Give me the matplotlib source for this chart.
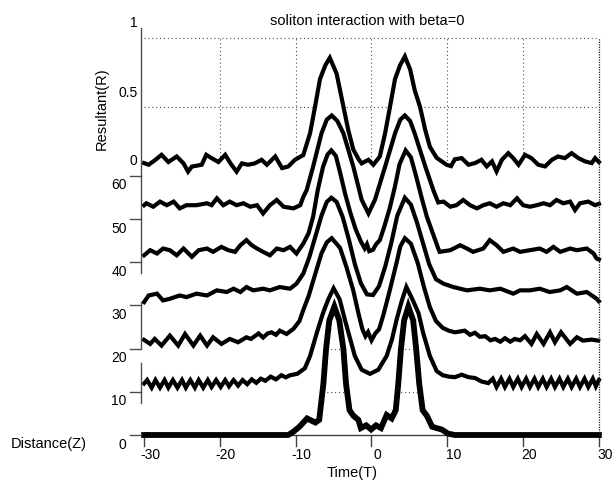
import numpy as np
import matplotlib
matplotlib.use('Agg')
import matplotlib.pyplot as plt

plt.rcParams['font.family'] = ['Liberation Sans', 'DejaVu Sans']

# ---- data: resultant R against time T, one row per distance Z ----
distances = [0, 10, 20, 30, 40, 50, 60]

t_z0 = [-30, -11.0, -10.4, -9.5, -8.5, -7.4, -6.9, -6.35, -6.0, -5.57, -4.9, -4.25, -3.7, -3.36,
        -2.9, -2.4, -1.74, -1.4, -0.7, -0.05, 0.6, 1.25, 2.0, 2.66, 3.2, 3.53, 3.88, 4.3, 4.86,
        5.5, 5.9, 6.3, 6.75, 7.3, 8.0, 8.6, 9.25, 10.1, 11.0, 30]
r_z0 = [0, 0, 0.02, 0.06, 0.12, 0.09, 0.11, 0.37, 0.62, 0.83, 0.93, 0.83, 0.62, 0.37,
        0.18, 0.14, 0.11, 0.05, 0.07, 0.04, 0.07, 0.05, 0.145, 0.12, 0.18, 0.37, 0.62, 0.83, 0.93,
        0.83, 0.62, 0.37, 0.18, 0.14, 0.06, 0.05, 0.04, 0.01, 0, 0]

t_z10 = [-30.0, -29.6, -29.0, -28.5, -27.9, -27.3, -26.8, -26.2, -25.6, -25.0, -24.5, -23.9, -23.3,
         -22.8, -22.2, -21.6, -21.1, -20.5, -19.9, -19.3, -18.8, -18.2, -17.6, -17.0, -16.4, -15.8,
         -15.2, -14.6, -14.0, -13.3, -12.6, -11.9, -11.3, -10.75, -9.8, -8.8, -8.1, -7.2, -6.4, -5.7,
         -5.0, -4.2, -3.5, -2.8, -2.2, -1.3, -0.2, 0.9, 2.0, 2.7, 3.3, 4.0, 4.6, 5.4, 6.2, 6.8, 7.7,
         8.6, 9.4, 10.2, 11.0, 11.9, 12.8, 13.65, 14.5, 15.4, 16.0, 16.5, 17.1, 17.6, 18.2, 18.7,
         19.3, 19.8, 20.4, 20.9, 21.5, 22.0, 22.6, 23.1, 23.7, 24.2, 24.8, 25.3, 25.9, 26.4, 27.0,
         27.5, 28.1, 28.6, 29.2, 29.6, 30.0]
r_z10 = [0.06, 0.085, 0.03, 0.085, 0.03, 0.085, 0.03, 0.085, 0.03, 0.085, 0.03, 0.085, 0.03,
         0.085, 0.03, 0.085, 0.035, 0.085, 0.035, 0.085, 0.04, 0.085, 0.045, 0.085, 0.055, 0.09,
         0.065, 0.095, 0.08, 0.11, 0.09, 0.12, 0.105, 0.12, 0.13, 0.17, 0.26, 0.43, 0.57, 0.67,
         0.75, 0.67, 0.52, 0.38, 0.26, 0.16, 0.13, 0.16, 0.26, 0.38, 0.52, 0.66, 0.76, 0.67, 0.57,
         0.43, 0.26, 0.15, 0.12, 0.11, 0.106, 0.124, 0.106, 0.10, 0.075, 0.063, 0.095, 0.035, 0.095,
         0.035, 0.095, 0.035, 0.095, 0.035, 0.095, 0.035, 0.095, 0.035, 0.095, 0.035, 0.095, 0.035,
         0.095, 0.035, 0.095, 0.035, 0.095, 0.035, 0.095, 0.035, 0.095, 0.04, 0.085]

t_z20 = [-30.0, -29.2, -28.6, -27.7, -26.6, -25.5, -24.6, -23.5, -22.6, -21.7, -20.9, -19.8, -18.7,
         -17.6, -16.5, -15.9, -14.9, -14.3, -13.7, -13.2, -12.6, -12.1, -11.2, -10.3, -9.5, -9.0,
         -8.3, -7.7, -6.6, -5.9, -5.25, -4.15, -3.3, -2.4, -1.7, -1.2, -0.8, -0.45, 0.0, 0.5, 1.0,
         1.6, 2.4, 3.3, 3.8, 4.4, 5.2, 6.1, 6.9, 7.7, 8.5, 9.4, 10.2, 11.0, 12.3, 13.0, 13.65, 14.3,
         15.0, 15.7, 16.3, 17.0, 17.6, 18.3, 18.9, 19.6, 20.25, 21.1, 21.8, 22.7, 23.55, 24.2, 25.0,
         26.2, 27.1, 27.9, 29.05, 29.9]
r_z20 = [0.063, 0.034, 0.07, 0.022, 0.094, 0.022, 0.106, 0.022, 0.094, 0.022, 0.082, 0.034, 0.07,
         0.046, 0.082, 0.07, 0.11, 0.08, 0.11, 0.118, 0.10, 0.13, 0.106, 0.143, 0.20, 0.28,
         0.38, 0.49, 0.69, 0.77, 0.80, 0.73, 0.59, 0.42, 0.25, 0.14, 0.09, 0.12, 0.06, 0.11, 0.14,
         0.25, 0.42, 0.62, 0.74, 0.80, 0.76, 0.62, 0.45, 0.30, 0.20, 0.15, 0.13, 0.118, 0.13, 0.10,
         0.115, 0.085, 0.09, 0.06, 0.07, 0.05, 0.075, 0.05, 0.07, 0.06, 0.09, 0.034, 0.106, 0.034,
         0.118, 0.046, 0.118, 0.034, 0.082, 0.058, 0.065, 0.058]

t_z30 = [-30.0, -29.4, -28.3, -27.5, -26.6, -25.3, -24.4, -23.1, -21.7, -20.4, -19.1, -18.2, -17.3,
         -16.5, -15.6, -14.3, -13.4, -12.1, -10.75, -9.9, -9.0, -8.2, -7.4, -6.6, -5.9, -5.3, -4.6,
         -3.8, -3.0, -2.2, -1.4, -0.6, 0.2, 1.0, 1.8, 2.6, 3.4, 4.4, 5.2, 6.0, 6.8, 7.6, 8.5, 9.5,
         10.8, 12.6, 14.3, 15.6, 17.0, 18.7, 19.6, 20.9, 22.2, 23.5, 24.9, 25.75, 27.1, 28.4, 29.7,
         30.0]
r_z30 = [0.024, 0.072, 0.085, 0.036, 0.048, 0.072, 0.06, 0.085, 0.072, 0.109, 0.097, 0.121, 0.097,
         0.133, 0.109, 0.121, 0.109, 0.133, 0.121, 0.157, 0.23, 0.35, 0.50, 0.65, 0.75, 0.78, 0.75,
         0.64, 0.48, 0.30, 0.16, 0.08, 0.075, 0.14, 0.28, 0.45, 0.65, 0.78, 0.73, 0.60, 0.45, 0.30,
         0.19, 0.157, 0.133, 0.109, 0.121, 0.109, 0.121, 0.085, 0.109, 0.109, 0.121, 0.097, 0.109,
         0.133, 0.085, 0.097, 0.048, 0.03]

t_z40 = [-30.0, -29.2, -28.3, -27.5, -26.6, -25.7, -24.8, -23.7, -22.8, -21.7, -20.9, -19.8, -18.9,
         -18.0, -17.3, -16.5, -15.8, -15.1, -14.3, -13.4, -12.5, -11.6, -10.75, -9.9, -9.0, -8.3,
         -7.7, -7.1, -6.4, -5.8, -5.3, -4.7, -4.1, -3.5, -2.8, -2.1, -1.4, -0.9, -0.6, -0.3, 0.2,
         0.6, 1.1, 1.7, 2.4, 3.1, 3.7, 4.5, 5.2, 5.9, 6.6, 7.3, 8.15, 8.8, 9.0, 10.4, 11.7, 12.6,
         13.4, 14.75, 15.6, 16.5, 17.4, 18.7, 19.6, 20.9, 22.2, 23.1, 24.0, 24.9, 26.2, 27.1, 28.4,
         29.3, 29.7, 30.0]
r_z40 = [0.05, 0.087, 0.063, 0.099, 0.087, 0.05, 0.099, 0.039, 0.087, 0.099, 0.075, 0.111, 0.087,
         0.075, 0.123, 0.16, 0.123, 0.099, 0.075, 0.05, 0.099, 0.087, 0.111, 0.063, 0.135, 0.21,
         0.33, 0.52, 0.69, 0.78, 0.81, 0.77, 0.64, 0.50, 0.36, 0.24, 0.15, 0.10, 0.13, 0.08, 0.09,
         0.13, 0.16, 0.26, 0.39, 0.55, 0.71, 0.81, 0.76, 0.62, 0.47, 0.33, 0.20, 0.10, 0.075, 0.087,
         0.123, 0.099, 0.075, 0.099, 0.16, 0.123, 0.075, 0.099, 0.075, 0.087, 0.099, 0.075, 0.111,
         0.075, 0.099, 0.087, 0.099, 0.063, 0.027, 0.02]

t_z50 = [-30.0, -29.7, -28.8, -27.9, -27.0, -26.1, -25.3, -24.4, -23.1, -21.7, -21.1, -20.4, -19.55,
         -18.7, -17.8, -16.9, -16.0, -15.1, -14.3, -13.4, -12.5, -11.6, -10.3, -9.4, -9.0, -8.55,
         -7.7, -6.6, -5.9, -5.25, -4.5, -3.7, -2.4, -1.3, -0.4, 0.46, 1.8, 3.1, 3.8, 4.4, 5.1, 5.7,
         7.1, 8.15, 8.8, 9.5, 10.4, 11.2, 12.1, 13.0, 13.9, 14.75, 15.6, 16.5, 17.4, 18.3, 19.2,
         20.0, 20.9, 21.8, 22.7, 23.55, 24.4, 25.3, 26.2, 26.85, 27.5, 28.6, 29.5, 30.0]
r_z50 = [0.10, 0.114, 0.089, 0.126, 0.10, 0.126, 0.077, 0.10, 0.10, 0.114, 0.10, 0.15, 0.10,
         0.126, 0.10, 0.114, 0.089, 0.10, 0.04, 0.10, 0.138, 0.089, 0.077, 0.10, 0.16, 0.21,
         0.38, 0.62, 0.72, 0.75, 0.71, 0.62, 0.38, 0.14, 0.04, 0.14, 0.38, 0.62, 0.72, 0.75, 0.71,
         0.62, 0.38, 0.21, 0.12, 0.126, 0.089, 0.10, 0.138, 0.10, 0.077, 0.10, 0.114, 0.089, 0.114,
         0.10, 0.15, 0.10, 0.089, 0.10, 0.114, 0.10, 0.138, 0.114, 0.126, 0.065, 0.114, 0.126, 0.10,
         0.11]

t_z60 = [-30.0, -29.4, -28.5, -27.7, -26.8, -25.7, -24.8, -24.2, -23.7, -22.4, -21.8, -21.1, -20.2,
         -19.3, -18.6, -17.8, -17.1, -16.3, -15.4, -14.5, -13.8, -12.7, -11.8, -11.0, -10.1, -9.0,
         -8.1, -7.45, -6.8, -6.1, -5.5, -4.6, -3.7, -3.06, -2.4, -1.7, -1.3, -0.4, 0.24, 1.1, 1.8,
         2.44, 3.1, 3.76, 4.4, 5.1, 5.7, 6.4, 7.1, 7.7, 8.6, 9.9, 10.5, 11.0, 11.9, 12.8, 13.65,
         14.5, 15.2, 15.9, 16.5, 17.2, 18.05, 18.7, 19.4, 20.25, 21.1, 22.0, 22.9, 23.8, 24.6, 25.5,
         26.4, 27.3, 28.2, 29.05, 29.5, 30.0]
r_z60 = [0.092, 0.08, 0.116, 0.152, 0.10, 0.14, 0.09, 0.03, 0.067, 0.08, 0.152, 0.128, 0.10,
         0.152, 0.09, 0.03, 0.09, 0.08, 0.09, 0.116, 0.08, 0.14, 0.056, 0.067, 0.116, 0.15,
         0.31, 0.50, 0.70, 0.80, 0.855, 0.74, 0.50, 0.33, 0.19, 0.12, 0.09, 0.116, 0.08, 0.14, 0.31,
         0.50, 0.70, 0.80, 0.865, 0.77, 0.62, 0.50, 0.33, 0.21, 0.13, 0.08, 0.07, 0.12, 0.128, 0.08,
         0.092, 0.116, 0.068, 0.104, 0.032, 0.116, 0.164, 0.128, 0.08, 0.152, 0.128, 0.08, 0.068,
         0.116, 0.14, 0.128, 0.164, 0.128, 0.104, 0.092, 0.128, 0.10]

curves_t = [t_z0, t_z10, t_z20, t_z30, t_z40, t_z50, t_z60]
curves_r = [r_z0, r_z10, r_z20, r_z30, r_z40, r_z50, r_z60]

time_ticks = [-30, -20, -10, 0, 10, 20, 30]
dist_ticks = [0, 10, 20, 30, 40, 50, 60]
res_ticks = ['1', '0.5', '0']

# ---- projection of the matlab view onto the page (x: time, y: distance units) ----
px_t = 7.58      # pixels per time unit
t0_px = 371.5    # pixel column of T=0
px_d = 4.32      # pixels per distance unit
d0_px = 435      # pixel row of the front floor edge
S = 138 / px_d   # one unit of R in distance units

fig = plt.figure(figsize=(6.16, 4.82), dpi=100)
ax = fig.add_axes([0, 0, 1, 1])
ax.set_xlim(-t0_px / px_t, (616 - t0_px) / px_t)
ax.set_ylim((d0_px - 482) / px_d, d0_px / px_d)
ax.axis('off')

zback = distances[-1]
grid_kw = dict(color='0.3', lw=0.8, linestyle=(0, (1, 2.5)), zorder=1)

# back wall grid
for r in [0.5, 1.0]:
    ax.plot([-30, 30], [zback + S * r] * 2, **grid_kw)
for t in time_ticks[1:-1]:
    ax.plot([t, t], [zback, zback + S], **grid_kw)
# floor grid (only shows under the arches)
for d in dist_ticks[1:-1]:
    ax.plot([-30, 30], [d, d], **grid_kw)

# white surface between neighbouring rows (hidden line removal)
for i in range(1, len(distances)):
    tb, yb = np.array(curves_t[i]), distances[i] + S * np.array(curves_r[i])
    tf, yf = np.array(curves_t[i - 1]), distances[i - 1] + S * np.array(curves_r[i - 1])
    ax.fill(np.r_[tb, tf[::-1]], np.r_[yb, yf[::-1]], color='white', lw=0, zorder=2)

# right edge
ax.plot([30, 30], [0, zback + S], color='0.15', lw=0.9, linestyle=(0, (1, 1)), zorder=5)

fs = 10

# bottom axis
ax.plot([-30, 30], [0, 0], color='0.25', lw=1, zorder=2.5)
for t in time_ticks:
    ax.plot([t, t], [0, -2.5], color='0.25', lw=1, zorder=2.5)
    ax.text(t + 0.8, -4.6, str(t), ha='center', va='center', fontsize=fs)

# rows
for i, d in enumerate(distances):
    y = d + S * np.array(curves_r[i])
    ax.plot(curves_t[i], y, color='black', lw=4.2 if d == 0 else 3.0,
            solid_joinstyle='miter', zorder=3)

# left axis, ticks and edge lines
xl = -30.4
ax.plot([xl, xl], [37.5, 94.2], color='0.3', lw=1, zorder=4)
ax.plot([xl, xl], [20.1, 30.8], color='0.3', lw=1, zorder=4)
ax.plot([xl, xl], [7.4, 16.7], color='0.3', lw=1, zorder=4)
for d in dist_ticks:
    ax.plot([-31.85, xl], [d, d], color='0.3', lw=1, zorder=4)
    ax.text(-32.3, d - 2.2, str(d), ha='right', va='center', fontsize=fs)
for lab, yv in zip(res_ticks, [95.4, 79.2, 63.4]):
    ax.text(-30.9, yv, lab, ha='right', va='center', fontsize=fs)

ax.text(-2.5, -8.9, 'Time(T)', ha='center', va='center', fontsize=fs + 0.5)
ax.text(-42.6, -2.0, 'Distance(Z)', ha='center', va='center', fontsize=fs + 0.5)
ax.text(-35.6, 75.6, 'Resultant(R)', ha='center', va='center', rotation=90, fontsize=fs + 0.5)
ax.text(-0.5, 95.8, 'soliton interaction with beta=0', ha='center', va='center', fontsize=fs + 0.5)

fig.savefig('out.png', dpi=100)
